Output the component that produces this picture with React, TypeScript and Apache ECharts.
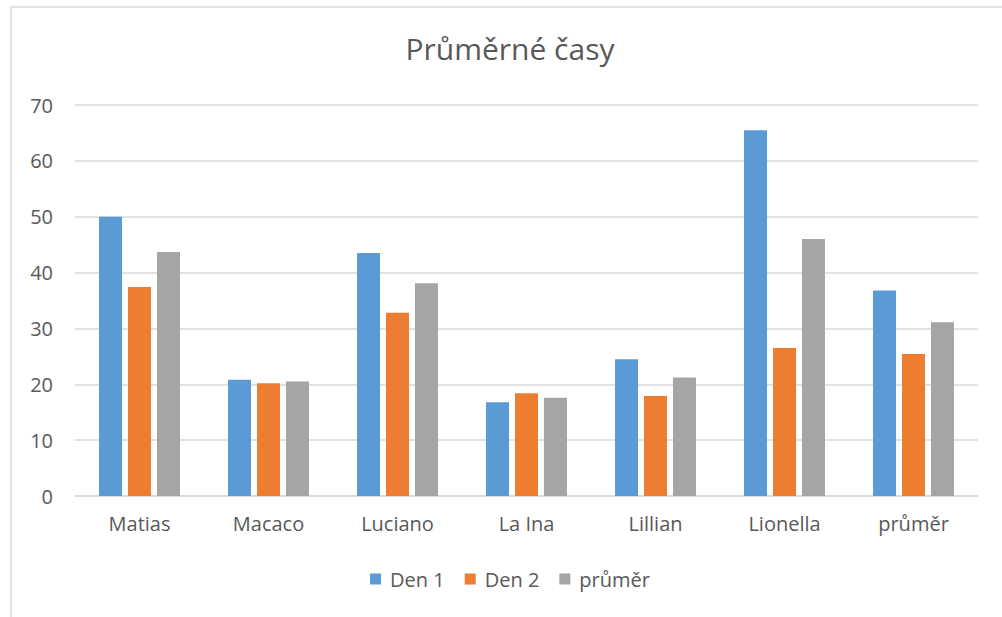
import React, { useEffect, useRef } from "react";
import * as echarts from "echarts";

const categories = ["Matias", "Macaco", "Luciano", "La Ina", "Lillian", "Lionella", "průměr"];
const den1 = [50.0, 20.8, 43.5, 16.8, 24.5, 65.5, 36.8];
const den2 = [37.4, 20.2, 32.8, 18.4, 17.9, 26.5, 25.4];
const prumer = [43.7, 20.5, 38.1, 17.6, 21.2, 46.0, 31.1];
const seriesNames = ["Den 1", "Den 2", "průměr"];
const colors = ["#5b9bd5", "#ed7d31", "#a5a5a5"];
const titleText = "Průměrné časy";

const FONT = "'Open Sans', 'Noto Sans', sans-serif";
const W = 1020;

export default function App() {
  const ref = useRef<HTMLDivElement>(null);
  useEffect(() => {
    if (!ref.current) return;
    const chart = echarts.init(ref.current, undefined, { renderer: "svg" });
    const data = [den1, den2, prumer];
    chart.setOption({
      animation: false,
      backgroundColor: "#ffffff",
      title: {
        text: titleText,
        left: "center",
        top: 28,
        textStyle: { fontFamily: FONT, fontSize: 30, fontWeight: "normal", color: "#595959" },
      },
      legend: {
        bottom: 23,
        left: "center",
        itemWidth: 11,
        itemHeight: 11,
        itemGap: 20,
        icon: "rect",
        textStyle: { fontFamily: FONT, fontSize: 20, color: "#595959", padding: [0, 0, 0, 4] },
        data: seriesNames,
      },
      grid: { left: 75, right: W - 978, top: 105, bottom: 121, containLabel: false },
      xAxis: {
        type: "category",
        data: categories,
        axisLine: { show: true, lineStyle: { color: "#d9d9d9", width: 1.5 } },
        axisTick: { show: false },
        axisLabel: { fontFamily: FONT, fontSize: 20, color: "#595959", margin: 17 },
      },
      yAxis: {
        type: "value",
        min: 0,
        max: 70,
        interval: 10,
        axisLine: { show: false },
        axisTick: { show: false },
        splitLine: { lineStyle: { color: "#d9d9d9", width: 1.5 } },
        axisLabel: { fontFamily: FONT, fontSize: 20, color: "#595959", margin: 22 },
      },
      series: seriesNames.map((name, i) => ({
        type: "bar",
        name,
        data: data[i],
        barWidth: 23,
        barGap: "26%",
        itemStyle: { color: colors[i] },
      })),
      graphic: [
        {
          type: "polyline",
          shape: { points: [[11, 617], [11, 7], [W, 7]] },
          style: { stroke: "#d9d9d9", lineWidth: 1.5, fill: "none" },
          silent: true,
        },
      ],
    });
    return () => chart.dispose();
  }, []);
  return (
    <div style={{ position: "absolute", left: 0, top: 0, width: 1002, height: 617, overflow: "hidden" }}>
      <div ref={ref} style={{ width: W, height: 617 }} />
    </div>
  );
}
